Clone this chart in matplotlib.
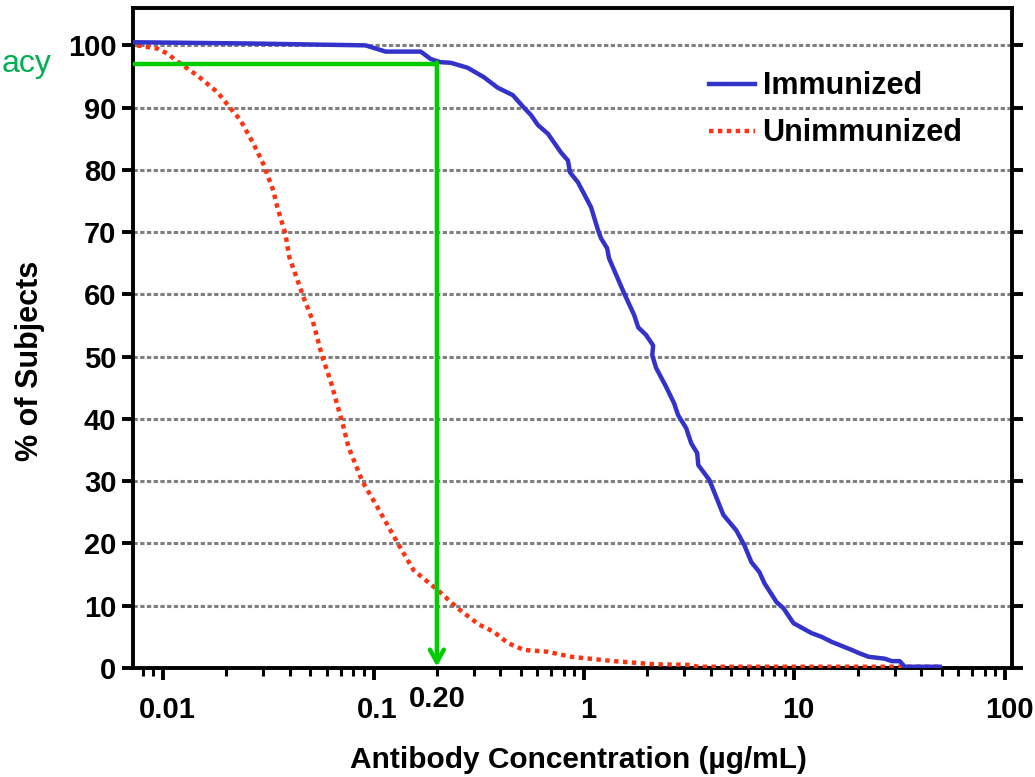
import matplotlib
matplotlib.use("Agg")
import matplotlib.pyplot as plt
import matplotlib.transforms as mtransforms
from matplotlib.ticker import FixedLocator, LogLocator, NullFormatter

plt.rcParams['font.family'] = ['Liberation Sans', 'DejaVu Sans']

# Immunized curve (concentration µg/mL, % of subjects)
imm_conc = [0.0072, 0.026, 0.0916, 0.114, 0.1675, 0.187, 0.208, 0.233, 0.280, 0.334,
            0.389, 0.459, 0.518, 0.560, 0.604, 0.674, 0.777, 0.839, 0.858, 0.936,
            1.08, 1.166, 1.205, 1.288, 1.315, 1.55, 1.73, 1.81, 1.97, 2.13,
            2.11, 2.20, 2.46, 2.68, 2.80, 3.06, 3.23, 3.45, 3.49, 3.94,
            4.59, 5.29, 5.78, 6.24, 6.81, 7.20, 8.21, 8.86, 9.89, 12.05,
            13.45, 15.0, 18.7, 20.2, 22.5, 26.8, 29.0, 31.6, 33.4, 49.0]
imm_pct = [100.5, 100.3, 100.0, 99.0, 99.0, 97.8, 97.3, 97.2, 96.4, 94.9,
           93.2, 92.0, 90.0, 88.8, 87.2, 85.8, 82.8, 81.5, 79.6, 78.0,
           74.0, 70.3, 69.0, 67.4, 65.8, 60.2, 56.7, 54.7, 53.5, 51.8,
           50.2, 48.2, 45.1, 42.5, 40.6, 38.5, 36.1, 34.5, 32.6, 30.2,
           24.6, 22.1, 19.7, 17.0, 15.4, 13.6, 10.6, 9.6, 7.2, 5.6,
           5.0, 4.2, 2.9, 2.4, 1.8, 1.5, 1.1, 1.1, 0.2, 0.2]

# Unimmunized curve
unimm_conc = [0.00752, 0.00936, 0.01045, 0.01205, 0.0145, 0.0181, 0.0208, 0.0233, 0.0268, 0.0299,
              0.0334, 0.0349, 0.0381, 0.0398, 0.0435, 0.0464, 0.0513, 0.0572, 0.0624, 0.0720,
              0.0760, 0.0887, 0.1045, 0.130, 0.155, 0.202, 0.251, 0.316, 0.373, 0.435,
              0.518, 0.674, 0.867, 1.39, 2.15, 3.13, 3.49, 50.1]
unimm_pct = [100.0, 99.5, 98.7, 97.1, 95.2, 92.5, 90.0, 88.0, 84.3, 81.0,
             76.7, 74.0, 69.8, 66.0, 62.3, 59.6, 55.9, 49.9, 46.2, 38.7,
             35.5, 29.9, 25.8, 20.1, 15.7, 12.5, 9.6, 7.0, 5.8, 4.0,
             2.9, 2.6, 1.8, 1.1, 0.6, 0.5, 0.2, 0.2]

threshold_conc = 0.20
threshold_pct = 97
x_ticks = [0.01, 0.1, 1, 10, 100]
x_ticklabels = ['0.01', '0.1', '1', '10', '100']
y_ticks = list(range(0, 101, 10))

fig = plt.figure(figsize=(10.35, 7.77), dpi=100)
ax = fig.add_axes([0.1285, 0.1403, 0.8493, 0.8494])

ax.set_xscale('log')
ax.set_xlim(0.0072, 108)
ax.set_ylim(0, 106)

# grid
for yv in y_ticks[1:]:
    ax.axhline(yv, color='#808080', lw=2.2, ls=(0, (1.4, 0.8)), zorder=1)

ax.plot(imm_conc, imm_pct, color='#3333CC', lw=3.2, label='Immunized', zorder=4,
        solid_joinstyle='round')
ax.plot(unimm_conc, unimm_pct, color='#FF3311', lw=3.2, ls=(0, (1, 1)),
        label='Unimmunized', zorder=3)

# green threshold lines
ax.plot([ax.get_xlim()[0], threshold_conc], [threshold_pct, threshold_pct],
        color='#00CC00', lw=3.2, zorder=5, solid_capstyle='butt')
ax.annotate('', xy=(threshold_conc, 0.2), xytext=(threshold_conc, threshold_pct + 0.25),
            arrowprops=dict(arrowstyle='->,head_length=0.9,head_width=0.5',
                            color='#00CC00', lw=3.2, shrinkA=0, shrinkB=0),
            zorder=5, annotation_clip=False)

ax.annotate('0.20', xy=(threshold_conc, 0), xycoords=('data', 'axes fraction'),
            xytext=(0, -12.5), textcoords='offset points', ha='center', va='top',
            fontsize=21, fontweight='bold')

# axes styling
for s in ax.spines.values():
    s.set_linewidth(2.8)
ax.xaxis.set_major_locator(FixedLocator(x_ticks))
ax.set_xticklabels(x_ticklabels)
ax.xaxis.set_minor_locator(LogLocator(base=10, subs=range(2, 10)))
ax.xaxis.set_minor_formatter(NullFormatter())
ax.set_yticks(y_ticks)
ax.tick_params(axis='x', which='major', direction='out', length=8.5, width=2.8,
               labelsize=21, pad=12)
ax.tick_params(axis='x', which='minor', direction='out', length=5.5, width=2.2)
ax.tick_params(axis='y', which='major', direction='out', length=8, width=2.8,
               labelsize=21, pad=4, right=True)
shift = mtransforms.ScaledTranslation(4 / 100, 0, fig.dpi_scale_trans)
for lab in ax.get_xticklabels():
    lab.set_fontweight('bold')
    lab.set_transform(lab.get_transform() + shift)
for lab in ax.get_yticklabels():
    lab.set_fontweight('bold')

ax.set_xlabel('Antibody Concentration (µg/mL)', fontsize=21.5, fontweight='bold')
ax.xaxis.set_label_coords(0.507, -(746 - 668) / 660)
ax.set_ylabel('% of Subjects', fontsize=22, fontweight='bold')
ax.yaxis.set_label_coords((45 - 133) / 879, (668 - 361) / 660)

leg = ax.legend(loc='upper left', bbox_to_anchor=(0.655, 0.904), frameon=False,
                prop={'size': 22, 'weight': 'bold'}, handlelength=1.5,
                handletextpad=0.26, labelspacing=0.555, borderpad=0, borderaxespad=0)

# partially visible label at the left edge of the reference image
fig.text(2 / 1035, 1 - 72 / 777, 'acy', color='#00B050', fontsize=23,
         ha='left', va='baseline')

fig.savefig('out.png', dpi=100)
